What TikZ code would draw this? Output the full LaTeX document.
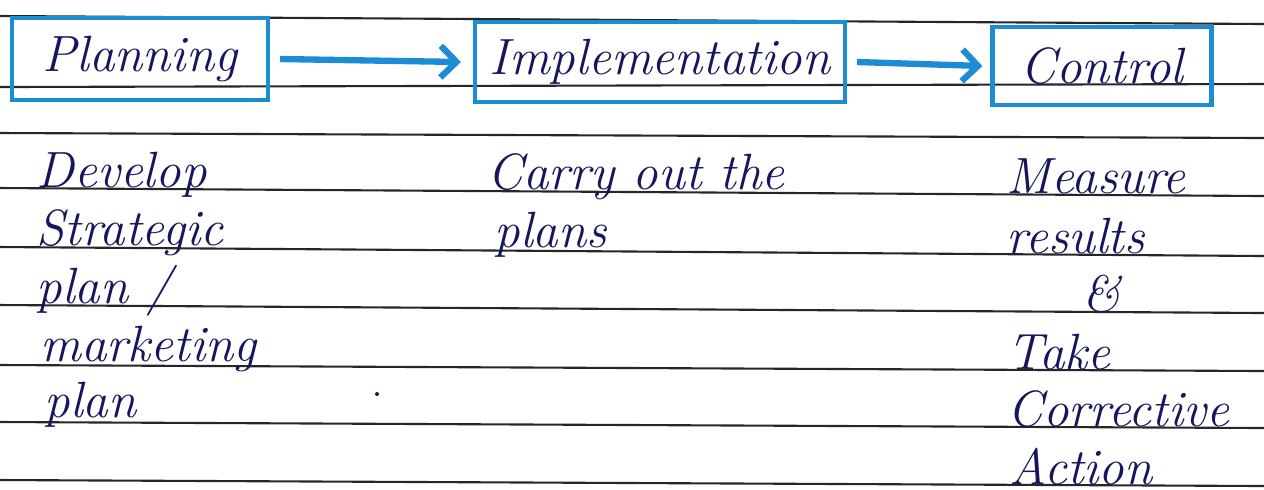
\documentclass[tikz,border=0pt]{standalone}
\usetikzlibrary{arrows.meta}
\definecolor{penblue}{RGB}{28,140,212}
\definecolor{ink}{RGB}{22,22,95}
\begin{document}
\begin{tikzpicture}[x=0.1mm,y=-0.1mm,line width=0.6pt,
  every node/.style={font=\itshape\fontsize{14.5}{17}\selectfont,text=ink,inner sep=1pt},
  stagebox/.style={draw=penblue,line width=1.2pt,inner sep=0pt},
  flow/.style={draw=penblue,line width=1.8pt,-{Straight Barb[length=4.5pt,width=9pt,line width=1.8pt]}},
  rule/.style={draw=black!85,line width=0.6pt}]
\useasboundingbox (0,0) rectangle (1264,489);
% ruled lines of the page
\foreach \l/\r in {16/24,87/84,133/138,188/196,247/256,305/313,365/371,422/428,480/486}
  \draw[rule] (0,\l) -- (1264,\r);
% stages
\node[stagebox,minimum width=25.6mm,minimum height=8.2mm] (plan) at (140,59) {Planning};
\node[stagebox,minimum width=37mm,minimum height=8mm] (impl) at (660,62) {Implementation};
\node[stagebox,minimum width=21.9mm,minimum height=7.8mm] (ctrl) at (1102,66) {Control};
\draw[flow] ([xshift=1mm]plan.east) -- ([xshift=-1.2mm]impl.west);
\draw[flow] ([xshift=1mm]impl.east) -- ([xshift=-0.8mm]ctrl.west);
% what each stage does
\begin{scope}[every node/.append style={anchor=base west}]
\node (dev) at (32,187) {Develop};
\node (strat) at (32,245) {Strategic};
\node (planA) at (32,303) {plan /};
\node (mkt) at (36,361) {marketing};
\node (planB) at (40,417) {plan};
\node (carry) at (483,189) {Carry out the};
\node (plans) at (490,247) {plans};
\node (meas) at (1002,193) {Measure};
\node (res) at (1002,253) {results};
\node (amp) at (1078,311) {\&};
\node (take) at (1003,369) {Take};
\node (corr) at (1003,426) {Corrective};
\node (act) at (1005,484) {Action};
\end{scope}
\fill[ink] (377,394) circle[radius=2];
\end{tikzpicture}
\end{document}
